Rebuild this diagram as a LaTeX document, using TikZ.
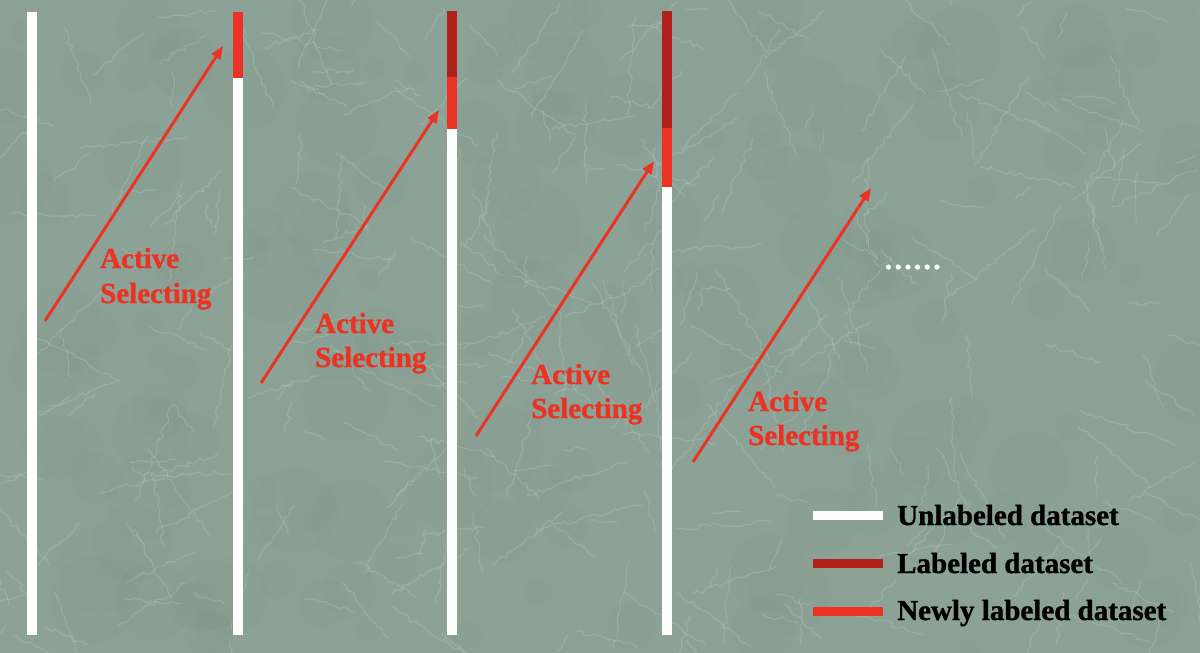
\documentclass[tikz,border=0pt]{standalone}
\usepackage{fontspec}
\setmainfont{Liberation Serif}[BoldFont={Liberation Serif Bold}, BoldFeatures={FakeBold=1.2}]
\usetikzlibrary{arrows.meta,decorations.pathmorphing}
\definecolor{bg}{HTML}{8DA297}
\definecolor{vein}{HTML}{BCD3C6}
\definecolor{patch}{HTML}{7D9185}
\definecolor{newred}{HTML}{EA3323}
\definecolor{oldred}{HTML}{B0211A}
\tikzset{
  sel/.style={draw=newred, line width=3pt, -{Triangle[length=13pt,width=10pt]}},
  lbl/.style={anchor=base west, inner sep=0pt, text=newred, font=\fontsize{29}{35}\selectfont\bfseries},
  leg/.style={anchor=base west, inner sep=0pt, text=black, font=\fontsize{29}{35}\selectfont\bfseries},
  legline/.style={line width=9pt},
  veinline/.style={vein, opacity=0.28, line width=1.1pt, decorate,
    decoration={random steps, segment length=5pt, amplitude=2.5pt}},
}
\begin{document}
\begin{tikzpicture}[x=1pt,y=-1pt]
\fill[bg] (0,0) rectangle (1200,653);
\useasboundingbox (0,0) rectangle (1200,653);
% marble texture
\begin{scope}
\clip (0,0) rectangle (1200,653);
\pgfmathsetseed{7}
\foreach \i in {1,...,160}{
  \pgfmathsetmacro\px{rnd*1200}\pgfmathsetmacro\py{rnd*653}\pgfmathsetmacro\pr{10+rnd*35}
  \fill[patch,opacity=0.1] (\px,\py) circle[radius=\pr];
}
\foreach \i in {1,...,320}{
  \pgfmathsetmacro\px{rnd*1200}\pgfmathsetmacro\py{rnd*653}\pgfmathsetmacro\pa{rnd*360}\pgfmathsetmacro\pl{20+rnd*90}
  \draw[veinline] (\px,\py) -- ++(\pa:\pl);
}
\end{scope}
% bars
\fill[white] (27,12) rectangle (37,635);
\fill[white] (233,78) rectangle (243,635);
\fill[newred] (233,12) rectangle (243,78);
\fill[white] (447,129) rectangle (457,635);
\fill[newred] (447,77) rectangle (457,129);
\fill[oldred] (447,11) rectangle (457,77);
\fill[white] (662,187) rectangle (672,635);
\fill[newred] (662,128) rectangle (672,187);
\fill[oldred] (662,11) rectangle (672,128);
% arrows
\coordinate (s1) at (45,321);  \coordinate (t1) at (223,46);
\coordinate (s2) at (261,383); \coordinate (t2) at (439,110);
\coordinate (s3) at (476,436); \coordinate (t3) at (654,161);
\coordinate (s4) at (693,462); \coordinate (t4) at (871,188);
\draw[sel] (s1) -- (t1);
\draw[sel] (s2) -- (t2);
\draw[sel] (s3) -- (t3);
\draw[sel] (s4) -- (t4);
% labels
\node[lbl] (a1) at (100,268) {Active};
\node[lbl] (b1) at (100,303) {Selecting};
\node[lbl] (a2) at (315,333) {Active};
\node[lbl] (b2) at (315,367) {Selecting};
\node[lbl] (a3) at (531,384) {Active};
\node[lbl] (b3) at (531,418) {Selecting};
\node[lbl] (a4) at (748,411) {Active};
\node[lbl] (b4) at (748,445) {Selecting};
% dots
\node[leg, text=white] (dots) at (883.5,269) {……};
% legend
\coordinate (l1a) at (813,515.5); \coordinate (l1b) at (883,515.5);
\coordinate (l2a) at (813,563);   \coordinate (l2b) at (883,563);
\coordinate (l3a) at (813,611);   \coordinate (l3b) at (883,611);
\draw[legline, white] (l1a) -- (l1b);
\draw[legline, oldred] (l2a) -- (l2b);
\draw[legline, newred] (l3a) -- (l3b);
\node[leg] (g1) at (897,525) {Unlabeled dataset};
\node[leg] (g2) at (897,573) {Labeled dataset};
\node[leg] (g3) at (897,620) {Newly labeled dataset};
\end{tikzpicture}
\end{document}
